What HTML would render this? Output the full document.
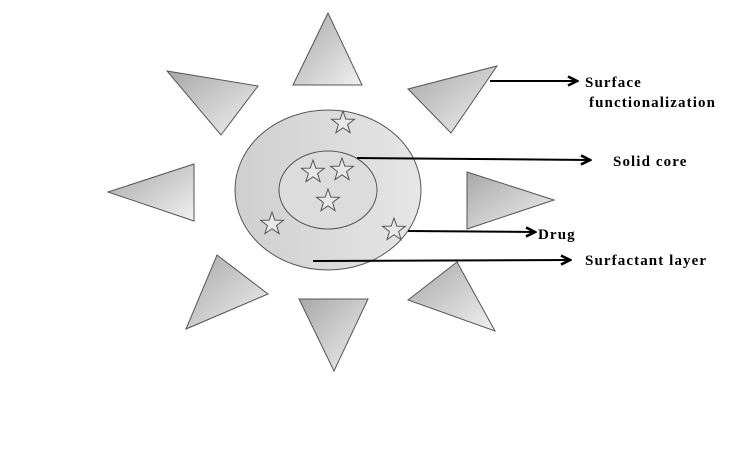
<!DOCTYPE html>
<html><head><style>body{margin:0;background:#fff}svg{display:block}</style></head>
<body>
<svg width="736" height="462" xmlns="http://www.w3.org/2000/svg">
<defs>
<linearGradient id="g" x1="0" y1="0" x2="1" y2="1"><stop offset="0" stop-color="#a8a8a8"/><stop offset="1" stop-color="#f0f0f0"/></linearGradient>
<linearGradient id="e" x1="0" y1="0" x2="1" y2="0"><stop offset="0" stop-color="#cfcfcf"/><stop offset="1" stop-color="#e6e6e6"/></linearGradient>
<marker id="a" markerWidth="12" markerHeight="12" refX="9" refY="6" orient="auto" markerUnits="userSpaceOnUse"><path d="M1,1.5 L10,6 L1,10.5" fill="none" stroke="#000" stroke-width="2.6"/></marker>
</defs>
<g fill="url(#g)" stroke="#555" stroke-width="1">
<polygon points="328,13 293,85 362,85"/>
<polygon points="167,71 258,86 221,135"/>
<polygon points="408,89 497,66 451,133"/>
<polygon points="108,192 194,164 194,221"/>
<polygon points="467,172 554,200 467,229"/>
<polygon points="217,255 268,294 186,329"/>
<polygon points="299,299 368,299 334,371"/>
<polygon points="408,300 457,262 495,331"/>
</g>
<ellipse cx="328" cy="190" rx="93" ry="80" fill="url(#e)" stroke="#555"/>
<ellipse cx="328" cy="190" rx="49" ry="39" fill="#dcdcdc" stroke="#555"/>
<g fill="#e8e8e8" stroke="#555" stroke-width="1">
<polygon id="s" points="0,-12 2.8,-3.9 11.4,-3.7 4.6,1.5 7.1,9.7 0,4.8 -7.1,9.7 -4.6,1.5 -11.4,-3.7 -2.8,-3.9" transform="translate(343,123)"/>
<use href="#s" transform="translate(-30,49)"/>
<use href="#s" transform="translate(-1,47)"/>
<use href="#s" transform="translate(-15,78)"/>
<use href="#s" transform="translate(-71,101)"/>
<use href="#s" transform="translate(51,107)"/>
</g>
<g stroke="#000" stroke-width="2" marker-end="url(#a)">
<line x1="490" y1="81" x2="576" y2="81"/>
<line x1="357" y1="158" x2="589" y2="160"/>
<line x1="408" y1="231" x2="534" y2="232"/>
<line x1="313" y1="261" x2="569" y2="260"/>
</g>
<g font-family="'Liberation Serif',serif" font-weight="bold" font-size="15" letter-spacing="1.1">
<text x="585" y="87">Surface</text>
<text x="589" y="107">functionalization</text>
<text x="613" y="166">Solid core</text>
<text x="538" y="239">Drug</text>
<text x="585" y="265">Surfactant layer</text>
</g>
</svg>
</body></html>
